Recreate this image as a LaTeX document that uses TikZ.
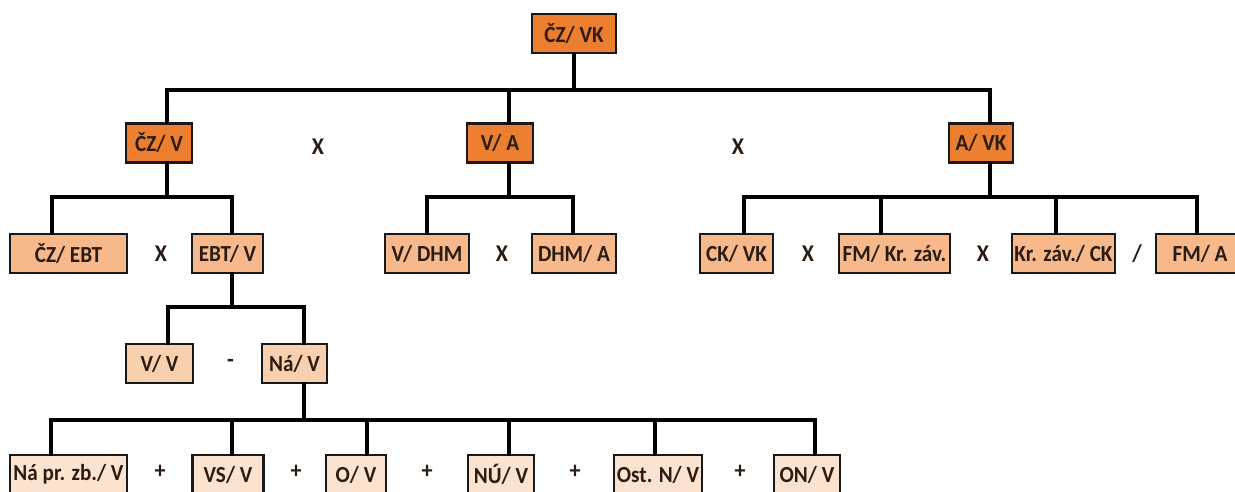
\documentclass[tikz,border=0pt]{standalone}
\usepackage{fontspec}
\setmainfont[FakeStretch=0.92]{Carlito}
\definecolor{dark}{HTML}{EC7E30}
\definecolor{mid}{HTML}{F7B98C}
\definecolor{light}{HTML}{F9D0AE}
\definecolor{pale}{HTML}{FCE3D0}
\definecolor{ink}{HTML}{2A1C12}
\tikzset{
  box/.style={draw=black!90, line width=2.6pt, inner sep=0pt, minimum height=39pt,
    text=ink, font=\bfseries\fontsize{23}{23}\selectfont},
  lvA/.style={box, fill=dark},
  lvB/.style={box, fill=mid},
  lvC/.style={box, fill=light},
  lvD/.style={box, fill=pale},
  conn/.style={line width=4pt, black, line cap=rect},
  op/.style={text=ink, font=\bfseries\fontsize{24}{24}\selectfont},
}
\begin{document}
\begin{tikzpicture}[x=1pt,y=-1pt]
\useasboundingbox[fill=white] (0,0) rectangle (1235,491);
% buses
\coordinate (b0) at (0,90);
\coordinate (b1) at (0,197);
\coordinate (b2) at (0,307);
\coordinate (b3) at (0,420);

% root
\node[lvA, minimum width=84pt] (root) at (574,33.5) {ČZ/ VK};
% level 1
\node[lvA, minimum width=66pt] (czv) at (159,143) {ČZ/ V};
\node[lvA, minimum width=66pt] (va) at (500,143) {V/ A};
\node[lvA, minimum width=64pt] (avk) at (981,143) {A/ VK};
% level 2
\node[lvB, minimum width=117pt] (czebt) at (68.5,253.5) {ČZ/ EBT};
\node[lvB, minimum width=71pt] (ebtv) at (227.5,253.5) {EBT/ V};
\node[lvB, minimum width=84pt] (vdhm) at (427,253.5) {V/ DHM};
\node[lvB, minimum width=84pt] (dhma) at (574,253.5) {DHM/ A};
\node[lvB, minimum width=73pt] (ckvk) at (736.5,253.5) {CK/ VK};
\node[lvB, minimum width=111pt] (fmkr) at (894.5,253.5) {FM/ Kr. záv.};
\node[lvB, minimum width=103pt] (krck) at (1063.5,253.5) {Kr. záv./ CK};
\node[lvB, minimum width=88pt] (fma) at (1200,253.5) {FM/ A};
% level 3
\node[lvC, minimum width=67pt] (vv) at (159.5,363.5) {V/ V};
\node[lvC, minimum width=65pt] (nav) at (294.5,363.5) {Ná/ V};
% level 4
\node[lvD, minimum width=117pt] (napr) at (68.5,474.5) {Ná pr. zb./ V};
\node[lvD, minimum width=71pt] (vsv) at (228,474.5) {VS/ V};
\node[lvD, minimum width=60pt] (ov) at (356,474.5) {O/ V};
\node[lvD, minimum width=66pt] (nuv) at (501,474.5) {NÚ/ V};
\node[lvD, minimum width=88pt] (ostv) at (658,474.5) {Ost. N/ V};
\node[lvD, minimum width=66pt] (onv) at (807,474.5) {ON/ V};

% operators
\node[op] (o1) at (318,147) {X};
\node[op] (o2) at (738,147) {X};
\node[op] (o3) at (161,254) {X};
\node[op] (o4) at (502,254) {X};
\node[op] (o5) at (808,254) {X};
\node[op] (o6) at (983,254) {X};
\node[op] (o7) at (1137,254) {/};
\node[op] (o8) at (230.5,363) {-};
\node[op] (o9) at (160,472) {+};
\node[op] (o10) at (296,472) {+};
\node[op] (o11) at (427,472) {+};
\node[op] (o12) at (575,472) {+};
\node[op] (o13) at (740,472) {+};

% connectors: root
\draw[conn] (root.south) -- (root.south |- b0);
\draw[conn] ([xshift=8pt]czv.north) |- ([xshift=9pt]avk.north |- b0) -- ([xshift=9pt]avk.north);
\draw[conn] ([xshift=9pt]va.north) -- ([xshift=9pt]va.north |- b0);
% ČZ/V
\draw[conn] ([xshift=8pt]czv.south) -- ([xshift=8pt]czv.south |- b1);
\draw[conn] ([xshift=-16.5pt]czebt.north) |- ([xshift=4.5pt]ebtv.north |- b1) -- ([xshift=4.5pt]ebtv.north);
% V/A
\draw[conn] ([xshift=9pt]va.south) -- ([xshift=9pt]va.south |- b1);
\draw[conn] (vdhm.north) |- ([xshift=-1pt]dhma.north |- b1) -- ([xshift=-1pt]dhma.north);
% A/VK
\draw[conn] ([xshift=9pt]avk.south) -- ([xshift=9pt]avk.south |- b1);
\draw[conn] ([xshift=7.5pt]ckvk.north) |- ([xshift=-3pt]fma.north |- b1) -- ([xshift=-3pt]fma.north);
\draw[conn] ([xshift=-13.5pt]fmkr.north) -- ([xshift=-13.5pt]fmkr.north |- b1);
\draw[conn] ([xshift=-7.5pt]krck.north) -- ([xshift=-7.5pt]krck.north |- b1);
% EBT/V
\draw[conn] ([xshift=4.5pt]ebtv.south) -- ([xshift=4.5pt]ebtv.south |- b2);
\draw[conn] ([xshift=8.5pt]vv.north) |- ([xshift=9.5pt]nav.north |- b2) -- ([xshift=9.5pt]nav.north);
% Ná/V
\draw[conn] ([xshift=9.5pt]nav.south) -- ([xshift=9.5pt]nav.south |- b3);
\draw[conn] ([xshift=-17.5pt]napr.north) |- ([xshift=8pt]onv.north |- b3) -- ([xshift=8pt]onv.north);
\draw[conn] ([xshift=4pt]vsv.north) -- ([xshift=4pt]vsv.north |- b3);
\draw[conn] ([xshift=11pt]ov.north) -- ([xshift=11pt]ov.north |- b3);
\draw[conn] ([xshift=8pt]nuv.north) -- ([xshift=8pt]nuv.north |- b3);
\draw[conn] ([xshift=-3pt]ostv.north) -- ([xshift=-3pt]ostv.north |- b3);
\end{tikzpicture}
\end{document}
